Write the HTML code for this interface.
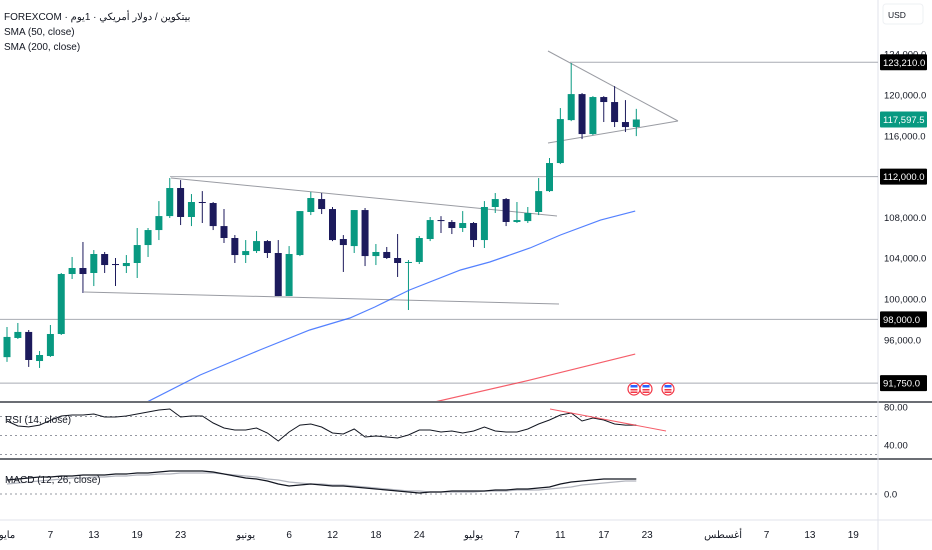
<!DOCTYPE html>
<html><head><meta charset="utf-8">
<style>
html,body{margin:0;padding:0;background:#fff;}
body{width:932px;height:550px;overflow:hidden;position:relative;font-family:"Liberation Sans","Noto Sans CJK SC",sans-serif;}
svg{position:absolute;left:0;top:0;}
.t{font-family:"Liberation Sans","Noto Sans CJK SC",sans-serif;}
</style></head>
<body>
<svg id="chart" width="932" height="550" viewBox="0 0 932 550" xmlns="http://www.w3.org/2000/svg">
<g id="grid"></g>
<g id="drawings"></g>
<g id="candles"></g>
<g id="overlay"></g>
<g id="axis"></g>
</svg>
<script>
// ===== DATA =====
const opens  = [94300,96180,96770,93920,94410,96570,102450,103040,102550,104410,103430,103230,103530,105290,106760,108130,110880,108040,109510,109410,107150,105980,104310,104700,105680,104510,100290,104310,108530,109800,108820,105880,105190,108720,104210,104610,104020,103530,103630,105880,107740,107550,106960,107450,105780,109020,109800,107550,107640,108530,110580,113330,117540,120090,116170,119800,119310,117350,116860];
const highs  = [97260,97650,96960,94900,97450,102550,104120,105590,104800,104610,104020,104310,106960,106960,109600,111860,111660,110290,110580,109510,108820,106270,105780,106660,105780,105780,105190,108620,110490,110390,109020,106270,108720,108920,105390,105100,106370,103820,106170,108040,108130,107740,108620,107550,109600,110390,109900,109510,109020,111860,113820,118720,123130,120190,119890,119890,120870,119500,118640];
const lows   = [93830,96080,93340,93240,94320,96470,101960,100590,101270,102550,101270,102550,102060,104120,105780,107940,107250,107150,107450,106760,105490,103530,103530,104510,104020,100290,100290,104210,108230,108330,105680,102650,104510,103230,103330,103920,102160,98920,103430,105680,106470,106370,106570,105100,105000,108430,107150,107450,107450,108230,110490,113230,117440,115680,116070,117350,116860,116370,115970];
const closes = [96280,96770,94020,94510,96570,102450,103040,102450,104410,103330,103330,103530,105290,106760,108130,110880,108040,109510,109410,107150,105980,104310,104700,105680,104510,100290,104410,108620,109900,108820,105780,105290,108720,104210,104610,104020,103530,103630,105980,107740,107640,106960,107450,105780,109020,109800,107550,107740,108430,110580,113330,117640,120090,116170,119800,119310,117350,116860,117600];
const sma50Idx = [12.9,17.8,23.3,27.9,31.6,33.9,37.1,41.8,44.5,48.2,51,54.7,57.9];
const sma50Val = [89900,92550,95000,96960,98140,99220,100880,102840,103630,105000,106270,107740,108620];
const sma200Idx = [39.4,48,57.9];
const sma200Val = [89900,92000,94600];
const rsiVals = [65.3,60,59,61,66,70.5,71.6,71.6,72.6,69.5,69.5,70.5,72.6,74.7,76.8,77.9,69.5,70.5,70.5,63.2,57.9,55.8,55.8,57.9,52.6,44.2,53.7,61,62.1,58.9,52.6,51.6,56.8,48.4,49.5,48.4,47.4,50.5,55.8,55.8,53.7,54.7,52.6,54.7,58.9,54.7,53.7,53.7,56.8,62.1,66.3,71.6,73.7,65.3,68.4,66.3,62.1,61,61];
const macdVals = [2800,3000,3200,3400,3400,3600,3600,3800,3800,3800,4000,4000,4200,4200,4400,4600,4600,4600,4600,4400,4000,3600,3200,3000,2600,2000,1600,1800,2000,1800,1600,1600,1400,1200,1000,800,600,400,200,400,400,600,600,600,600,800,800,1000,1000,1200,1400,2000,2400,2600,2800,3000,3000,3000,3000];
const signalVals = [2000,2200,2400,2600,2800,3000,3200,3200,3400,3400,3600,3600,3800,3800,4000,4000,4200,4200,4200,4200,4000,3800,3600,3400,3000,2800,2400,2200,2000,2000,1800,1800,1600,1400,1200,1000,800,600,600,400,400,400,400,400,600,600,600,800,800,800,1000,1200,1400,1800,2000,2200,2400,2600,2600];
const dateIdx = [0,4,8,12,16,22,26,30,34,38,43,47,51,55,59,66,70,74,78];
const dateLabels = ["مايو","7","13","19","23","يونيو","6","12","18","24","يوليو","7","11","17","23","أغسطس","7","13","19"];
const priceTicks = [124000,120000,116000,108000,104000,100000,96000];
const priceTickLabels = ["124,000.0","120,000.0","116,000.0","108,000.0","104,000.0","100,000.0","96,000.0"];
const levelVals = [123210,112000,98000,91750];
const levelLabels = ["123,210.0","112,000.0","98,000.0","91,750.0"];
const levelStart = [570,170,0,0];
const lastPrice = 117597.5;
const lastPriceLabel = "117,597.5";

// ===== SCALES =====
const X = i => 7 + 10.85*i;
const Y = p => 299 - (p-100000)*0.0102;
const RY = v => 407 + (80-v)*0.95;
const MY = v => 494 - v/200;
const NS = "http://www.w3.org/2000/svg";
function mk(tag, attrs, parent){const e=document.createElementNS(NS,tag);for(const k in attrs)e.setAttribute(k,attrs[k]);parent.appendChild(e);return e;}
const grid=document.getElementById('grid'),draw=document.getElementById('drawings'),cg=document.getElementById('candles'),ov=document.getElementById('overlay'),ax=document.getElementById('axis');

let e;
e=mk('line',{x1:0,y1:402,x2:932,y2:402,stroke:'#131722','stroke-width':1.2},grid);


e=mk('line',{x1:0,y1:459,x2:932,y2:459,stroke:'#131722','stroke-width':1.2},grid);


e=mk('line',{x1:0,y1:520,x2:932,y2:520,stroke:'#e0e3eb','stroke-width':1},grid);


e=mk('line',{x1:878,y1:0,x2:878,y2:550,stroke:'#e0e3eb','stroke-width':1},grid);


[70,50,30].forEach(v=>{
  const l=mk('line',{x1:0,y1:RY(v),x2:878,y2:RY(v),stroke:'#9598a1','stroke-width':1,'stroke-dasharray':'2,3'},grid);
  
  
});
e=mk('line',{x1:0,y1:MY(0),x2:878,y2:MY(0),stroke:'#9598a1','stroke-width':1,'stroke-dasharray':'2,3'},grid);



levelVals.forEach((v,i)=>{
  const l=mk('line',{x1:levelStart[i],y1:Y(v),x2:878,y2:Y(v),stroke:'#a8abb3','stroke-width':1},draw);
  
  
});
const tl=[[171,178,557,216],[84,292,559,304],[548,51,678,121],[548,143,678,121]];
tl.forEach(s=>{
  const l=mk('line',{x1:s[0],y1:s[1],x2:s[2],y2:s[3],stroke:'#9a9ca3','stroke-width':1},draw);
  
  
});

const defs=mk('defs',{},document.getElementById('chart'));
const cp=mk('clipPath',{id:'mainclip'},defs);mk('rect',{x:0,y:0,width:878,height:401},cp);

opens.forEach((o,i)=>{
  const c=closes[i],up=c>=o,col=up?'#089981':'#1c1a5c';
  const g=mk('g',{},cg);
  
  
  mk('line',{x1:X(i),x2:X(i),y1:Y(highs[i]),y2:Y(lows[i]),stroke:col,'stroke-width':1},g);
  const top=Y(Math.max(o,c)),bot=Y(Math.min(o,c));
  mk('rect',{x:X(i)-3.5,y:top,width:7,height:Math.max(1,bot-top),fill:col},g);
});

function pl(idx,vals,yf){return idx.map((k,j)=>X(k).toFixed(1)+','+yf(vals[j]).toFixed(1)).join(' ');}
e=mk('polyline',{points:pl(sma50Idx,sma50Val,Y),fill:'none',stroke:'#2962ff','stroke-opacity':0.8,'stroke-width':1.2,'clip-path':'url(#mainclip)'},ov);


e=mk('polyline',{points:pl(sma200Idx,sma200Val,Y),fill:'none',stroke:'#f23645','stroke-opacity':0.8,'stroke-width':1.2,'clip-path':'url(#mainclip)'},ov);



const idxAll=rsiVals.map((_,i)=>i);
e=mk('polyline',{points:pl(idxAll,rsiVals,RY),fill:'none',stroke:'#131722','stroke-width':1},ov);


e=mk('line',{x1:550,y1:409,x2:666,y2:431,stroke:'#f23645','stroke-opacity':0.8,'stroke-width':1},ov);


e=mk('polyline',{points:pl(idxAll,signalVals,MY),fill:'none',stroke:'#b2b5be','stroke-width':1.2},ov);


e=mk('polyline',{points:pl(idxAll,macdVals,MY),fill:'none',stroke:'#131722','stroke-width':1.2},ov);



[634,646,668].forEach(x=>{
  const g=mk('g',{},ov);
  
  
  mk('circle',{cx:x,cy:389,r:6,fill:'#fff',stroke:'#f23645','stroke-width':1.2},g);
  mk('rect',{x:x-3.5,y:385,width:7,height:2.5,fill:'#2962ff'},g);
  mk('rect',{x:x-3.5,y:389,width:7,height:1.5,fill:'#f23645'},g);
  mk('rect',{x:x-3.5,y:391.5,width:7,height:1.5,fill:'#f23645'},g);
});

function txt(x,y,s,attrs,parent,name,inter){const t=mk('text',Object.assign({x:x,y:y,'font-size':11,fill:'#131722',class:'t'},attrs||{}),parent);t.textContent=s;return t;}
const AX={'font-size':9.5};
priceTicks.forEach((p,i)=>txt(884,Y(p)+3.5,priceTickLabels[i],AX,ax,'price-tick-label',false));
txt(884,RY(80)+3.5,'80.00',AX,ax,'rsi-tick-label',false);
txt(884,RY(40)+3.5,'40.00',AX,ax,'rsi-tick-label',false);
txt(884,MY(0)+3.5,'0.0',AX,ax,'macd-tick-label',false);
levelVals.forEach((v,i)=>{
  const r=mk('rect',{x:880,y:Y(v)-8,width:47,height:16,fill:'#000',rx:1},ax);
  
  
  txt(883,Y(v)+3.5,levelLabels[i],{'font-size':9.5,fill:'#fff'},ax,'level-price-label',false);
});
e=mk('rect',{x:880,y:Y(lastPrice)-8,width:47,height:16,fill:'#089981',rx:1},ax);


txt(883,Y(lastPrice)+3.5,lastPriceLabel,{'font-size':9.5,fill:'#fff'},ax,'last-price-label',false);
e=mk('rect',{x:883,y:4,width:40,height:20,fill:'#fff',stroke:'#eef0f3',rx:3},ax);


txt(888,18,'USD',{'font-size':8.5},ax,'currency-label',true);

dateIdx.forEach((k,i)=>txt(X(k),538,dateLabels[i],{'text-anchor':'middle','font-size':10},ax,'date-tick-label',false));

txt(4,20,'FOREXCOM · بيتكوين / دولار أمريكي · 1يوم',{'font-size':10},ax,'symbol-title',false);
txt(4,35,'SMA (50, close)',{'font-size':10},ax,'sma-50-legend',true);
txt(4,50,'SMA (200, close)',{'font-size':10},ax,'sma-200-legend',true);
txt(5,423,'RSI (14, close)',{'font-size':10},ax,'rsi-legend',true);
txt(5,483,'MACD (12, 26, close)',{'font-size':10},ax,'macd-legend',true);
</script>
</body></html>
